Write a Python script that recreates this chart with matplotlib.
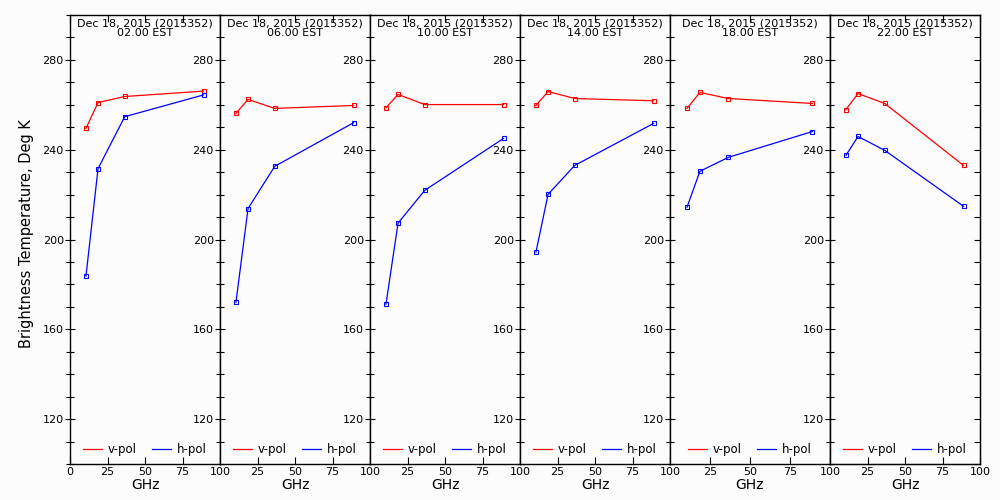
import matplotlib
matplotlib.use("Agg")
import matplotlib.pyplot as plt
from matplotlib.ticker import MultipleLocator, FixedLocator

# AMSR2 channel frequencies (GHz)
freqs = [10.65, 18.7, 36.5, 89.0]

panel_titles = ["02.00 EST", "06.00 EST", "10.00 EST",
                "14.00 EST", "18.00 EST", "22.00 EST"]
date_label = "Dec 18, 2015 (2015352)"

v_pol = [
    [249.5, 261.0, 263.7, 266.1],
    [256.2, 262.4, 258.4, 259.7],
    [258.7, 264.6, 260.1, 260.1],
    [259.7, 265.9, 262.8, 261.8],
    [258.4, 265.5, 262.8, 260.6],
    [257.9, 265.0, 260.6, 233.0],
]
h_pol = [
    [183.7, 231.6, 254.7, 264.4],
    [172.1, 213.8, 232.6, 252.0],
    [171.2, 207.3, 221.9, 245.0],
    [194.4, 220.1, 233.0, 251.7],
    [214.4, 230.4, 236.6, 248.1],
    [237.5, 245.9, 239.7, 214.8],
]

bg = "#fcfcfc"
fig = plt.figure(figsize=(10, 5), dpi=100, facecolor=bg)

# panel edges in pixels (left, right)
edges = [(70, 220), (220, 370), (370, 520), (520, 670), (670, 830), (830, 980)]
bottom, top = 464, 15

for i, (x0, x1) in enumerate(edges):
    ax = fig.add_axes([x0 / 1000, 1 - bottom / 500, (x1 - x0) / 1000, (bottom - top) / 500])
    ax.set_facecolor(bg)
    ax.plot(freqs, v_pol[i], color="red", lw=0.9, marker="s", ms=3,
            mfc="none", mew=0.8, label="v-pol")
    ax.plot(freqs, h_pol[i], color="blue", lw=0.9, marker="s", ms=3,
            mfc="none", mew=0.8, label="h-pol")
    ax.set_xlim(0, 100)
    ax.set_ylim(100, 300)

    if i == 0:
        ax.xaxis.set_major_locator(FixedLocator([0, 25, 50, 75, 100]))
    else:
        ax.xaxis.set_major_locator(FixedLocator([25, 50, 75, 100]))
    ax.yaxis.set_major_locator(FixedLocator([120, 160, 200, 240, 280]))
    ax.yaxis.set_minor_locator(MultipleLocator(10))

    ax.tick_params(axis="x", which="major", direction="in", top=True,
                   length=5, width=0.8, labelsize=8, pad=2)
    ax.tick_params(axis="y", which="both", direction="inout", right=False,
                   length=7, width=0.8, labelsize=8, pad=1)
    ax.tick_params(axis="y", which="minor", length=6)
    for s in ax.spines.values():
        s.set_linewidth(1.0)

    ax.set_xlabel("GHz", fontsize=10, labelpad=1)
    ax.text(0.5, 0.993, date_label + "\n" + panel_titles[i], transform=ax.transAxes,
            ha="center", va="top", fontsize=8, linespacing=0.95)
    ax.legend(loc="lower center", ncol=2, frameon=False, fontsize=8.5,
              handlelength=1.6, columnspacing=1.3, handletextpad=0.5,
              borderaxespad=0.3, markerscale=0)

    if i == len(edges) - 1:
        ax2 = ax.twinx()
        ax2.set_ylim(100, 300)
        ax2.yaxis.set_major_locator(FixedLocator([120, 160, 200, 240, 280]))
        ax2.yaxis.set_minor_locator(MultipleLocator(10))
        ax2.tick_params(axis="y", which="both", direction="in", length=4,
                        width=0.8, labelright=False)

fig.text(0.027, 0.532, "Brightness Temperature, Deg K", rotation=90,
         ha="center", va="center", fontsize=10.5)

fig.savefig("out.png", dpi=100, facecolor=bg)
